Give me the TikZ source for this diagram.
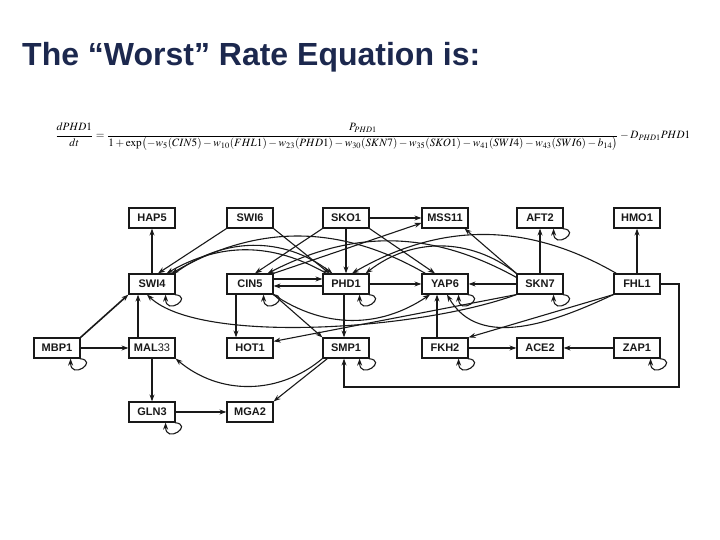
\documentclass[tikz,border=0pt]{standalone}
\usepackage{mathptmx}
\usepackage[no-math]{fontspec}
\usepackage{amsmath}
\usepackage{graphicx}
\newfontfamily\sansfont{Liberation Sans}
\usetikzlibrary{arrows.meta,calc,positioning}
\definecolor{titleblue}{RGB}{28,40,78}
\definecolor{inkgray}{RGB}{25,25,25}
\tikzset{
    genebox/.style={draw=inkgray,line width=1.2pt,fill=white,minimum width=46pt,minimum height=20pt,
                    inner sep=1pt,font=\sansfont\bfseries\fontsize{11}{12}\selectfont,text=inkgray},
    myedge/.style={draw=inkgray,line width=1.1pt,-{Stealth[length=7pt,width=5pt]}},
    thickedge/.style={myedge,line width=1.6pt},
    titletext/.style={font=\sansfont\bfseries\fontsize{32}{36}\selectfont,text=titleblue,inner sep=0pt}
}

\begin{document}
\begin{tikzpicture}[x=1pt,y=1pt]
  \useasboundingbox (0,0) rectangle (720,540);

  % titel en vergelijking
  \node[titletext,anchor=base west] (title) at (22,474) {The “Worst” Rate Equation is:};
  \node[anchor=west,inner sep=0pt] (eqn) at (55,403) {\resizebox{635pt}{!}{$\displaystyle
    \frac{dPHD1}{dt}=\frac{P_{PHD1}}{1+\exp\bigl(-w_5(CIN5)-w_{10}(FHL1)-w_{23}(PHD1)-w_{30}(SKN7)-w_{35}(SKO1)-w_{41}(SWI4)-w_{43}(SWI6)-b_{14}\bigr)}-D_{PHD1}PHD1$}};

  % rij 1
  \node[genebox] (hap5)  at (152,322) {HAP5};
  \node[genebox] (swi6)  at (250,322) {SWI6};
  \node[genebox] (sko1)  at (346,322) {SKO1};
  \node[genebox] (mss11) at (445,322) {MSS11};
  \node[genebox] (aft2)  at (540,322) {AFT2};
  \node[genebox] (hmo1)  at (637,322) {HMO1};
  % rij 2
  \node[genebox] (swi4)  at (152,256) {SWI4};
  \node[genebox] (cin5)  at (250,256) {CIN5};
  \node[genebox] (phd1)  at (346,256) {PHD1};
  \node[genebox] (yap6)  at (445,256) {YAP6};
  \node[genebox] (skn7)  at (540,256) {SKN7};
  \node[genebox] (fhl1)  at (637,256) {FHL1};
  % rij 3
  \node[genebox] (mbp1)  at (57,192)  {MBP1};
  \node[genebox] (mal33) at (152,192) {MAL{\mdseries 33}};
  \node[genebox] (hot1)  at (250,192) {HOT1};
  \node[genebox] (smp1)  at (346,192) {SMP1};
  \node[genebox] (fkh2)  at (445,192) {FKH2};
  \node[genebox] (ace2)  at (540,192) {ACE2};
  \node[genebox] (zap1)  at (637,192) {ZAP1};
  % rij 4
  \node[genebox] (gln3)  at (152,128) {GLN3};
  \node[genebox] (mga2)  at (250,128) {MGA2};

  \coordinate (rt) at (679,153);

  % bovenste laag
  \draw[myedge] (swi4.north) -- (hap5.south);
  \draw[myedge] (swi6.south west) -- ([xshift=6pt]swi4.north);
  \draw[myedge] (swi6.south east) -- ([xshift=7pt]phd1.north west);
  \draw[myedge] (sko1.south west) -- ([xshift=5pt]cin5.north);
  \draw[myedge] (sko1.south) -- (phd1.north);
  \draw[myedge] (sko1.south east) -- ([xshift=-10pt]yap6.north);
  \draw[myedge] (sko1.east) -- (mss11.west);
  \draw[myedge] (cin5.north east) -- ([yshift=-5pt]mss11.west);
  \draw[myedge] (skn7.north west) -- ([xshift=-4pt]mss11.south east);
  \draw[myedge] (skn7.north) -- (aft2.south);
  \draw[myedge] (fhl1.north) -- (hmo1.south);

  % bogen boven rij 2
  \draw[myedge] ([xshift=-1pt]swi4.north east) to[bend left=37] ([xshift=10pt]phd1.north west);
  \draw[myedge] ([xshift=4pt]phd1.north west) to[bend right=30] ([xshift=-9pt]swi4.north east);
  \draw[myedge] ([xshift=4pt]yap6.north west) to[bend right=30] ([xshift=-4pt]swi4.north east);
  \draw[myedge] (skn7.north west) to[bend right=38] ([xshift=-4pt]phd1.north east);
  \draw[myedge] ([xshift=3pt]fhl1.north west) to[bend right=30] ([xshift=6pt]phd1.north);
  \draw[myedge] ([yshift=-4pt]skn7.north west) to[bend right=28] ([xshift=-6pt]cin5.north east);

  % middelste laag
  \draw[myedge] ([yshift=5pt]cin5.east) -- ([yshift=5pt]phd1.west);
  \draw[myedge] ([yshift=-2pt]phd1.west) -- ([yshift=-2pt]cin5.east);
  \draw[myedge] (phd1.east) -- (yap6.west);
  \draw[myedge] (skn7.west) -- (yap6.east);
  \draw[thickedge] ([xshift=-14pt]mal33.north) -- ([xshift=-14pt]swi4.south);
  \draw[thickedge] (mbp1.north east) -- (swi4.south west);
  \draw[myedge] (mbp1.east) -- (mal33.west);
  \draw[myedge] ([xshift=-14pt]cin5.south) -- ([xshift=-14pt]hot1.north);
  \draw[myedge] ([xshift=-2pt]phd1.south) -- ([xshift=-2pt]smp1.north);
  \draw[myedge] (cin5.south east) -- (smp1.north west);
  \draw[myedge] (cin5.south east) to[bend right=34] ([xshift=-15pt]yap6.south);
  \draw[myedge] (skn7.south west) .. controls (420,210) and (200,195) .. ([xshift=-5pt]swi4.south);
  \draw[myedge] (skn7.south west) -- ([yshift=-4pt]hot1.north east);
  \draw[myedge] (fhl1.south west) -- (fkh2.north east);
  \draw[myedge] (fhl1.south west) to[out=205,in=-60] ([xshift=2pt]yap6.south);
  \draw[myedge] ([xshift=-8pt]fkh2.north) -- ([xshift=-8pt]yap6.south);

  % onderste laag
  \draw[myedge] (smp1.south west) to[bend left=40] (mal33.south east);
  \draw[myedge] ([xshift=5pt]smp1.south west) -- (mga2.north east);
  \draw[myedge] (mal33.south) -- (gln3.north);
  \draw[myedge] (gln3.east) -- (mga2.west);
  \draw[myedge] (fkh2.east) -- (ace2.west);
  \draw[myedge] (zap1.west) -- (ace2.east);
  \draw[myedge] (fhl1.east) -| (rt) -| ([xshift=-2pt]smp1.south);

  % zelfregulatie
  \foreach \g in {aft2,swi4,cin5,phd1,yap6,skn7,mbp1,smp1,fkh2,zap1,gln3}{
    \draw[myedge] ([xshift=-1pt]\g.south east) .. controls +(20pt,-2pt) and +(0pt,-22pt) .. ([xshift=-10pt]\g.south east);
  }
\end{tikzpicture}
\end{document}
